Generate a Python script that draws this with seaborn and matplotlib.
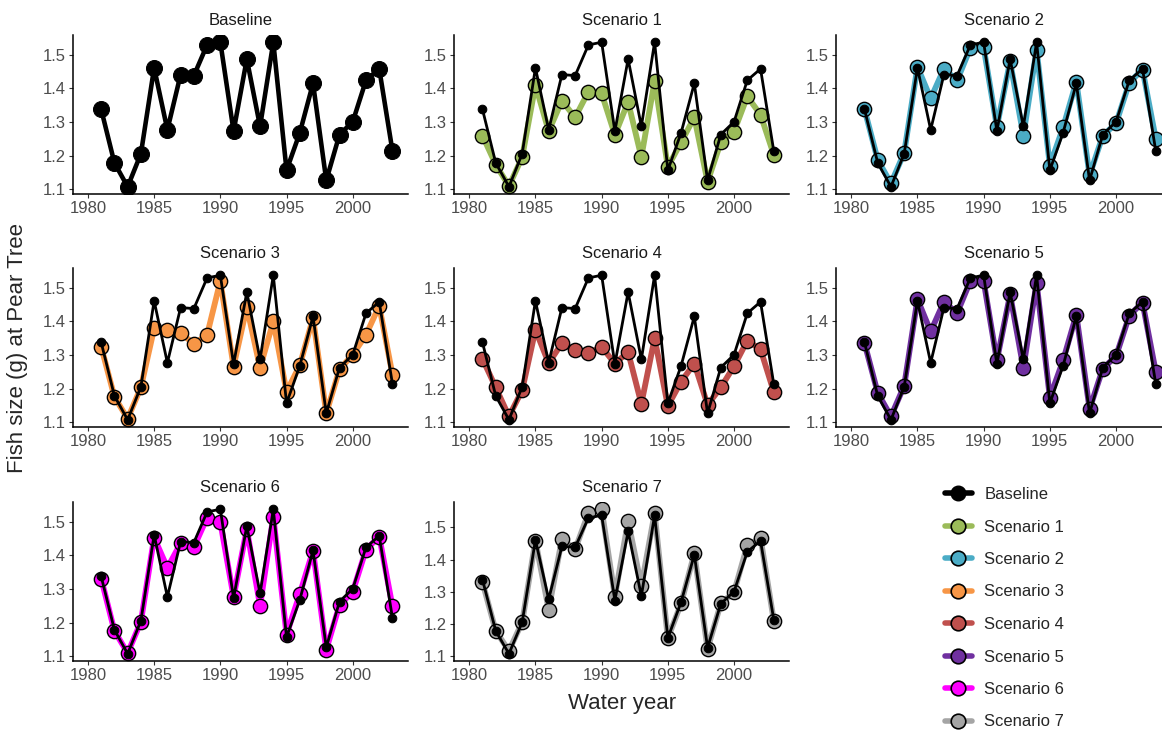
import matplotlib
matplotlib.use("Agg")
import matplotlib.pyplot as plt
from matplotlib.lines import Line2D
import seaborn as sns

# data
years = list(range(1981, 2004))

baseline = [1.338, 1.179, 1.108, 1.206, 1.461, 1.277, 1.441, 1.438, 1.529, 1.537,
            1.273, 1.487, 1.287, 1.537, 1.157, 1.268, 1.415, 1.127, 1.263, 1.301,
            1.424, 1.458, 1.214]
scenario1 = [1.260, 1.174, 1.110, 1.196, 1.410, 1.273, 1.363, 1.314, 1.390, 1.385,
             1.262, 1.360, 1.196, 1.422, 1.167, 1.240, 1.314, 1.123, 1.240, 1.272,
             1.376, 1.322, 1.203]
scenario2 = [1.338, 1.188, 1.118, 1.209, 1.464, 1.370, 1.458, 1.424, 1.520, 1.522,
             1.286, 1.480, 1.260, 1.515, 1.171, 1.284, 1.420, 1.142, 1.260, 1.296,
             1.417, 1.456, 1.250]
scenario3 = [1.325, 1.176, 1.111, 1.204, 1.379, 1.373, 1.366, 1.333, 1.360, 1.520,
             1.266, 1.443, 1.262, 1.400, 1.191, 1.270, 1.410, 1.127, 1.258, 1.301,
             1.360, 1.446, 1.242]
scenario4 = [1.289, 1.204, 1.118, 1.196, 1.375, 1.276, 1.335, 1.314, 1.306, 1.324,
             1.275, 1.309, 1.155, 1.350, 1.149, 1.221, 1.275, 1.152, 1.204, 1.267,
             1.343, 1.317, 1.191]
scenario5 = [1.336, 1.188, 1.118, 1.209, 1.466, 1.370, 1.458, 1.425, 1.520, 1.520,
             1.284, 1.480, 1.262, 1.515, 1.174, 1.284, 1.420, 1.140, 1.260, 1.297,
             1.417, 1.456, 1.250]
scenario6 = [1.331, 1.176, 1.110, 1.203, 1.453, 1.363, 1.436, 1.424, 1.512, 1.498,
             1.277, 1.478, 1.250, 1.515, 1.165, 1.286, 1.414, 1.120, 1.253, 1.292,
             1.417, 1.456, 1.249]
scenario7 = [1.330, 1.179, 1.117, 1.206, 1.459, 1.245, 1.463, 1.432, 1.544, 1.556,
             1.285, 1.520, 1.318, 1.544, 1.156, 1.264, 1.419, 1.123, 1.264, 1.299,
             1.444, 1.467, 1.211]

names = ["Baseline", "Scenario 1", "Scenario 2", "Scenario 3", "Scenario 4",
         "Scenario 5", "Scenario 6", "Scenario 7"]
series = [baseline, scenario1, scenario2, scenario3, scenario4,
          scenario5, scenario6, scenario7]
colors = ["#000000", "#9BBB59", "#4BACC6", "#F79646", "#C0504D",
          "#7030A0", "#FF00FF", "#A5A5A5"]

sns.set_style("ticks")
plt.rcParams["font.family"] = ["Liberation Sans", "DejaVu Sans"]

W, H = 1162, 730
fig = plt.figure(figsize=(W / 100, H / 100), dpi=100)

col_left = [72.7, 454, 836]
row_top = [35, 268, 502]
pw, ph = 335, 159

for i, (name, vals, c) in enumerate(zip(names, series, colors)):
    r, k = divmod(i, 3)
    ax = fig.add_axes([col_left[k] / W, (H - row_top[r] - ph) / H, pw / W, ph / H])
    if i == 0:
        sns.lineplot(x=years, y=vals, ax=ax, color="black", lw=3.3, marker="o",
                     markersize=11.5, markeredgecolor="black")
    else:
        sns.lineplot(x=years, y=vals, ax=ax, color=c, lw=4.2, marker="o",
                     markersize=10.3, markeredgecolor="black", markeredgewidth=1.0)
        sns.lineplot(x=years, y=baseline, ax=ax, color="black", lw=2.0, marker="o",
                     markersize=6.2, markeredgecolor="black")
    ax.set_xlim(1978.85, 2004.15)
    ax.set_xticks([1980, 1985, 1990, 1995, 2000])
    ax.set_yticks([1.1, 1.2, 1.3, 1.4, 1.5])
    ax.set_yticklabels(["1.1", "1.2", "1.3", "1.4", "1.5"])
    ax.set_xlabel("")
    ax.set_ylabel("")
    ax.set_title(name, fontsize=12, color="#1A1A1A", pad=7)
    sns.despine(ax=ax)
    for s in ["left", "bottom"]:
        ax.spines[s].set_linewidth(1.1)
        ax.spines[s].set_color("black")
    ax.tick_params(length=3, width=0.8, color="#333333", labelcolor="#4D4D4D",
                   labelsize=12, pad=2)

fig.text(622 / W, 1 - 704 / H, "Water year", ha="center", va="center", fontsize=16)
fig.text(18 / W, 1 - 348 / H, "Fish size (g) at Pear Tree", ha="center", va="center",
         rotation=90, fontsize=16)

handles = []
for name, c in zip(names, colors):
    if name == "Baseline":
        h = Line2D([], [], color="black", lw=4, marker="o", markersize=10.5,
                   markeredgecolor="black")
    else:
        h = Line2D([], [], color=c, lw=4, marker="o", markersize=10.5,
                   markeredgecolor="black", markeredgewidth=1.2)
    handles.append(h)
fig.legend(handles, names, loc="upper left", bbox_to_anchor=(930 / W, 1 - 472 / H),
           frameon=False, fontsize=12, handlelength=1.6, handletextpad=0.75,
           labelspacing=1.05, borderpad=0.4)

fig.savefig("out.png", dpi=100)
